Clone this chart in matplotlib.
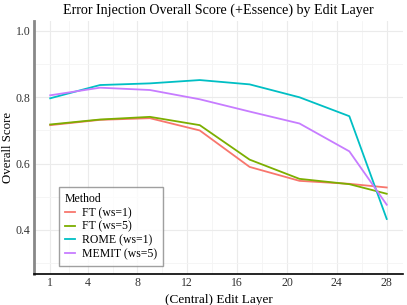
import matplotlib.pyplot as plt
from matplotlib.ticker import FixedLocator

plt.rcParams['font.family'] = ['Liberation Serif', 'DejaVu Serif']

layers = [1, 5, 9, 13, 17, 21, 25, 28]
ft_ws1 = [0.716, 0.732, 0.737, 0.700, 0.590, 0.548, 0.539, 0.528]
ft_ws5 = [0.718, 0.733, 0.741, 0.716, 0.612, 0.554, 0.538, 0.509]
rome_ws1 = [0.797, 0.837, 0.842, 0.852, 0.839, 0.800, 0.743, 0.433]
memit_ws5 = [0.806, 0.829, 0.822, 0.794, 0.757, 0.721, 0.637, 0.476]

series = [
    ('FT (ws=1)', ft_ws1, '#F8766D'),
    ('FT (ws=5)', ft_ws5, '#7CAE00'),
    ('ROME (ws=1)', rome_ws1, '#00BFC4'),
    ('MEMIT (ws=5)', memit_ws5, '#C77CFF'),
]

xticks = [1, 4, 8, 12, 16, 20, 24, 28]
yticks = [0.4, 0.6, 0.8, 1.0]

fig = plt.figure(figsize=(4.07, 3.05), dpi=100)
ax = fig.add_axes([0.0835, 0.1016, 0.9065, 0.8294])

for name, vals, col in series:
    ax.plot(layers, vals, color=col, lw=1.3, label=name)

ax.set_xlim(-0.3, 29.3)
ax.set_ylim(0.267, 1.03)
ax.set_xticks(xticks)
ax.set_yticks(yticks)
ax.set_yticklabels(['0.4', '0.6', '0.8', '1.0'])
minor_x = [(a + b) / 2 for a, b in zip(xticks[:-1], xticks[1:])]
ax.xaxis.set_minor_locator(FixedLocator(minor_x))
ax.yaxis.set_minor_locator(FixedLocator([0.3, 0.5, 0.7, 0.9]))
ax.grid(True, which='major', color='#EBEBEB', lw=0.8)
ax.grid(True, which='minor', color='#F4F4F4', lw=0.6)
ax.set_axisbelow(True)
ax.tick_params(which='both', length=0, labelsize=8.5, colors='#333333', pad=2.5)

for s in ['top', 'right']:
    ax.spines[s].set_visible(False)
ax.spines['left'].set_color('#888888')
ax.spines['left'].set_linewidth(2)
ax.spines['bottom'].set_color('black')
ax.spines['bottom'].set_linewidth(1.2)

ax.set_title('Error Injection Overall Score (+Essence) by Edit Layer', fontsize=10.1, pad=5)
ax.set_xlabel('(Central) Edit Layer', fontsize=9.5, labelpad=3)
ax.set_ylabel('Overall Score', fontsize=9.3, labelpad=1.5)

leg = ax.legend(title='Method', loc='lower left', bbox_to_anchor=(0.052, 0.008),
                fontsize=8.5, title_fontsize=8.5, frameon=True, fancybox=False,
                handlelength=0.85, handletextpad=0.55, labelspacing=0.15,
                borderpad=0.5, alignment='left')
leg.get_frame().set_edgecolor('#888888')
leg.get_frame().set_linewidth(1.0)

fig.savefig('out.png', dpi=100)
